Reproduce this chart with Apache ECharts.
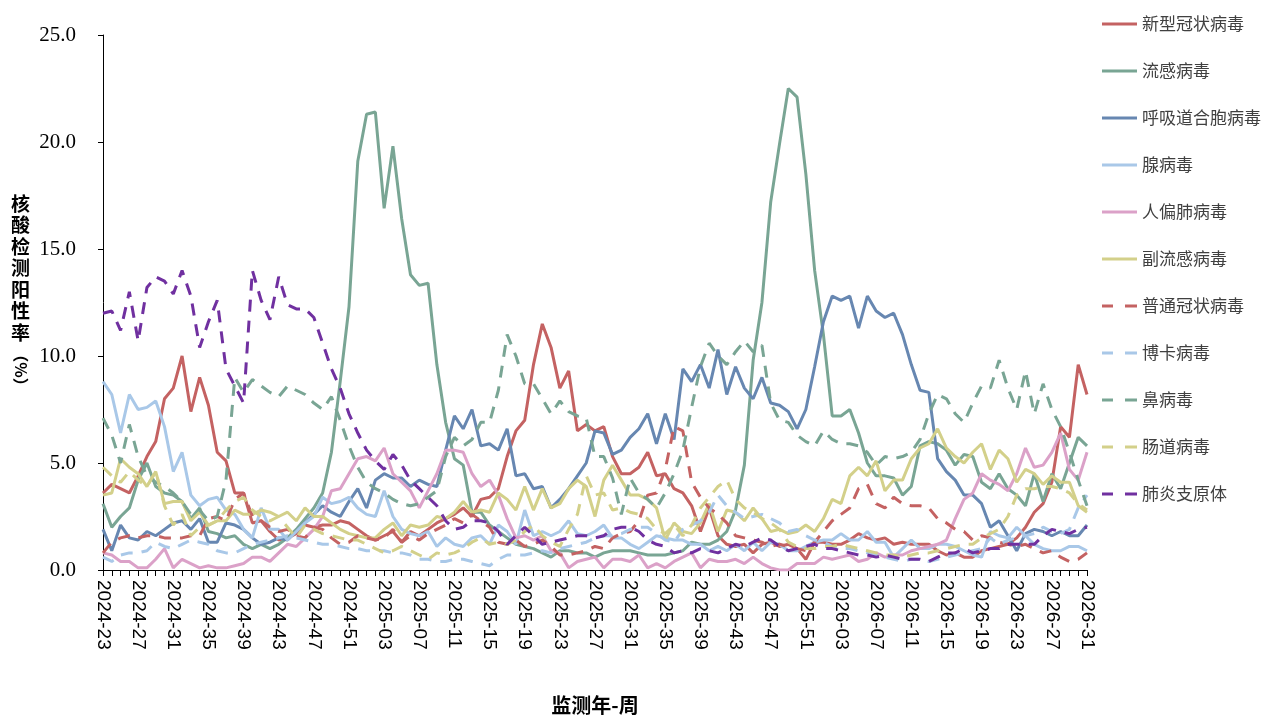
<!doctype html>
<html>
<head>
<meta charset="utf-8">
<script src="https://cdn.jsdelivr.net/npm/echarts@6/dist/echarts.min.js"></script>
<style>
    html, body {margin: 0; padding: 0; background: #fff;}
    #main {width: 1280px; height: 720px;}
</style>
</head>
<body>
<div id="main"></div>
<script>
    // 监测周
    var weeks2024 = ['23','24','25','26','27','28','29','30','31','32','33','34','35','36','37','38','39','40','41','42','43','44','45','46','47','48','49','50','51','52'];
    var weeks2025 = ['01','02','03','04','05','06','07','08','09','10','11','12','13','14','15','16','17','18','19','20','21','22','23','24','25','26','27','28','29','30','31','32','33','34','35','36','37','38','39','40','41','42','43','44','45','46','47','48','49','50','51','52'];
    var weeks2026 = ['01','02','03','04','05','06','07','08','09','10','11','12','13','14','15','16','17','18','19','20','21','22','23','24','25','26','27','28','29','30','31'];
    var yTicks = [0, 5, 10, 15, 20, 25];

    var names = ['新型冠状病毒','流感病毒','呼吸道合胞病毒','腺病毒','人偏肺病毒','副流感病毒','普通冠状病毒','博卡病毒','鼻病毒','肠道病毒','肺炎支原体'];

    var sars = [3.6,4.0,3.8,3.6,4.4,5.3,6.0,8.0,8.5,10.0,
        7.4,9.0,7.7,5.5,5.1,3.6,3.6,2.2,2.3,1.8,
        1.4,1.5,1.7,2.1,2.0,2.1,2.1,2.3,2.2,1.9,
        1.6,1.4,1.6,1.8,1.3,1.8,1.6,1.9,2.2,2.4,
        2.6,2.9,2.5,3.3,3.4,3.8,5.3,6.5,7.0,9.6,
        11.5,10.4,8.5,9.3,6.5,6.8,6.5,6.7,5.3,4.5,
        4.5,4.8,5.5,4.4,4.5,3.8,3.6,3.0,1.8,2.9,
        1.6,1.2,1.1,1.2,0.8,1.2,1.3,1.1,1.2,1.0,
        0.5,1.3,1.3,1.2,1.2,1.4,1.7,1.5,1.4,1.5,
        1.2,1.3,1.2,1.2,1.2,0.9,0.7,0.8,0.6,0.6,
        0.9,1.0,1.1,1.2,1.5,2.0,2.7,3.1,4.1,6.7,
        6.2,9.6,8.2];
    var flu = [3.1,2.0,2.5,2.9,4.2,5.0,3.9,3.6,3.5,3.2,
        2.4,2.9,1.8,1.7,1.5,1.6,1.2,1.0,1.2,1.0,
        1.2,1.5,1.9,2.4,2.9,3.6,5.5,8.8,12.3,19.1,
        21.3,21.4,16.9,19.8,16.4,13.8,13.3,13.4,9.6,6.9,
        5.2,4.9,2.7,2.7,2.1,1.8,1.5,1.2,1.1,1.0,
        0.8,0.6,0.9,0.9,0.8,0.8,0.6,0.8,0.9,0.9,
        0.9,0.8,0.7,0.7,0.7,0.8,0.9,1.3,1.2,1.2,
        1.4,1.8,2.8,4.9,9.8,12.5,17.2,19.9,22.5,22.1,
        18.5,14.0,11.0,7.2,7.2,7.5,6.4,5.0,4.4,4.4,
        4.3,3.5,3.9,5.8,6.0,5.9,5.6,4.9,5.4,5.3,
        4.1,3.8,4.5,3.8,3.5,3.0,4.5,3.2,4.5,3.8,
        5.0,6.2,5.8];
    var rsv = [1.9,0.9,2.1,1.5,1.4,1.8,1.6,1.9,2.2,2.3,
        1.9,2.4,1.3,1.3,2.2,2.1,1.9,1.5,1.2,1.3,
        1.5,1.4,1.8,2.2,2.6,3.0,2.7,2.5,3.2,3.8,
        2.9,4.2,4.5,4.3,4.3,3.9,4.2,4.0,3.9,5.6,
        7.2,6.6,7.5,5.8,5.9,5.6,6.6,4.4,4.5,3.8,
        3.9,2.9,3.3,3.8,4.4,5.0,6.5,6.4,5.4,5.6,
        6.2,6.6,7.3,5.9,7.3,6.1,9.4,8.8,9.6,8.5,
        10.3,8.2,9.5,8.5,8.0,9.0,7.8,7.7,7.4,6.6,
        7.5,9.5,11.6,12.8,12.6,12.8,11.3,12.8,12.1,11.8,
        12.0,11.0,9.6,8.4,8.3,5.2,4.6,4.2,3.5,3.5,
        3.1,2.0,2.3,1.6,0.9,1.7,1.9,1.8,1.6,1.8,
        1.6,1.6,2.1];
    var adeno = [8.8,8.2,6.4,8.2,7.5,7.6,7.9,6.7,4.6,5.5,
        3.5,3.0,3.3,3.4,2.8,2.6,1.9,1.5,2.9,1.9,
        1.9,1.4,1.8,2.2,2.5,3.4,3.1,3.2,3.4,2.9,
        2.6,2.5,3.7,2.5,1.9,1.7,1.6,1.8,1.1,1.5,
        1.2,1.1,1.5,1.6,1.2,2.1,1.8,1.2,2.8,1.6,
        1.8,1.6,1.8,2.3,1.7,1.6,1.8,2.1,1.5,1.5,
        1.2,1.0,1.3,1.6,1.5,1.4,1.4,1.2,1.2,0.9,
        1.1,0.9,1.2,0.9,1.3,0.9,1.3,1.2,0.9,0.9,
        1.1,1.3,1.4,1.4,1.7,1.4,1.4,1.8,1.3,1.3,
        0.6,1.0,1.4,1.0,1.0,1.2,1.2,1.1,0.9,0.7,
        0.6,1.8,1.6,1.5,2.0,1.6,1.2,1.0,0.9,0.9,
        1.1,1.1,0.9];
    var hmpv = [0.8,0.7,0.4,0.4,0.1,0.1,0.5,1.0,0.1,0.5,
        0.3,0.1,0.2,0.1,0.1,0.2,0.3,0.6,0.6,0.4,
        0.8,1.2,1.1,1.5,1.9,2.5,3.7,3.8,4.5,5.2,
        5.3,5.1,5.7,4.5,4.1,3.7,2.9,3.7,4.5,5.6,
        5.6,5.5,4.5,3.9,4.2,3.5,2.4,1.5,1.6,1.4,
        1.6,0.9,0.8,0.1,0.4,0.5,0.6,0.1,0.5,0.5,
        0.4,0.7,0.1,0.3,0.1,0.4,0.6,0.8,0.1,0.5,
        0.4,0.4,0.5,0.3,0.6,0.3,0.1,0.0,0.0,0.3,
        0.3,0.3,0.6,0.5,0.6,0.7,0.4,0.5,0.8,0.6,
        0.7,0.7,0.9,1.0,1.1,1.2,1.4,2.4,3.3,3.6,
        4.5,4.2,4.0,3.7,4.5,5.7,4.8,4.9,5.5,6.4,
        4.7,4.2,5.5];
    var piv = [3.5,3.6,5.2,4.8,4.5,3.9,4.6,3.1,3.2,3.2,
        2.3,2.7,2.1,2.3,2.3,2.8,2.6,2.6,2.8,2.7,
        2.5,2.7,2.3,2.9,2.5,2.5,2.2,1.9,1.7,1.6,
        1.5,1.5,1.9,2.2,1.6,2.1,2.0,2.1,2.5,2.4,
        2.7,3.2,2.7,2.8,2.7,3.6,3.3,2.8,3.9,2.8,
        3.8,2.9,3.1,3.8,4.2,3.9,2.5,4.2,4.9,4.2,
        3.5,3.5,3.3,2.9,1.4,2.2,1.8,1.7,2.2,3.1,
        1.8,2.8,2.7,2.3,2.9,2.4,1.8,1.9,1.7,1.8,
        2.1,1.8,2.4,3.3,3.1,4.4,4.8,4.4,5.1,3.7,
        4.2,4.2,5.2,5.7,5.9,6.6,5.7,5.3,5.0,5.5,
        5.9,4.7,5.6,5.2,4.1,4.7,4.5,4.0,4.4,4.1,
        4.1,3.0,2.7];
    var hcov = [0.8,1.3,1.5,1.6,1.5,1.6,1.6,1.5,1.5,1.5,
        1.6,1.6,2.4,2.5,2.3,3.3,3.6,2.5,2.3,2.0,
        1.8,1.9,1.6,1.5,2.0,1.9,1.5,1.2,1.3,1.6,
        1.5,1.4,1.5,1.9,1.3,1.6,1.4,1.7,1.9,2.1,
        2.4,2.2,2.6,2.3,2.0,1.3,1.2,1.4,1.1,1.2,
        1.4,1.1,0.7,0.7,0.8,0.9,1.1,1.0,1.5,1.7,
        1.8,2.3,3.5,3.6,4.7,6.7,6.5,4.1,3.4,2.9,
        2.6,2.2,1.6,1.5,1.4,1.3,1.1,1.2,1.1,1.0,
        0.9,1.3,1.8,2.3,2.6,2.9,3.8,4.0,3.1,2.9,
        3.4,3.1,3.0,3.0,2.9,2.4,2.2,1.9,1.8,1.4,
        1.6,1.5,1.3,1.2,1.1,1.2,1.0,0.8,0.9,0.6,
        0.4,0.5,0.8];
    var boca = [0.6,0.4,0.7,0.8,0.8,0.9,1.3,1.1,1.0,1.2,
        1.4,1.3,1.2,0.9,0.8,0.8,1.0,1.2,1.3,1.4,
        1.5,1.6,1.5,1.4,1.3,1.2,1.2,1.1,1.0,1.0,
        0.9,0.9,0.9,0.8,0.8,0.7,0.5,0.5,0.4,0.4,
        0.5,0.5,0.4,0.3,0.2,0.5,0.7,0.7,0.7,0.8,
        0.9,0.8,1.0,1.1,1.2,1.3,1.5,1.6,1.6,1.7,
        1.9,2.0,2.0,1.7,1.4,1.3,1.9,2.1,2.3,2.7,
        3.5,3.0,2.7,2.4,2.5,2.6,2.4,2.2,1.8,1.9,
        1.6,1.4,1.3,1.1,1.0,1.0,0.9,0.8,0.7,0.6,
        0.5,0.4,0.5,0.5,0.4,0.5,0.6,0.7,0.8,0.9,
        1.0,1.5,1.2,1.4,1.5,1.6,1.7,2.0,1.8,1.7,
        1.9,2.9,3.5];
    var rhino = [7.1,6.3,5.0,6.8,5.3,4.4,4.1,3.9,3.6,3.2,
        2.6,2.8,2.3,2.5,4.2,9.0,8.3,8.9,8.6,8.3,
        8.1,8.6,8.4,8.2,7.8,7.5,8.1,7.0,5.8,4.8,
        4.1,3.8,3.6,3.3,3.1,3.0,3.1,3.4,3.7,5.3,
        6.2,5.8,6.1,6.9,6.9,8.4,11.0,10.0,8.7,8.7,
        8.0,7.3,7.9,7.4,7.2,7.1,5.3,5.3,4.3,2.6,
        4.3,3.6,3.3,2.9,3.6,4.5,5.6,7.6,9.5,10.6,
        10.0,9.6,10.2,10.7,10.2,10.5,7.8,7.0,6.9,6.3,
        6.0,5.8,6.5,6.1,5.9,5.9,5.8,5.5,4.9,5.3,
        5.2,5.3,5.5,6.1,7.3,8.2,8.0,7.3,6.9,7.8,
        8.6,8.5,9.8,8.5,7.5,9.3,7.3,8.7,7.5,6.7,
        5.5,4.2,3.0];
    var entero = [4.8,4.4,4.1,4.6,4.2,3.9,4.6,3.0,2.1,2.6,
        1.6,2.0,2.1,2.3,2.8,3.2,3.4,2.8,2.5,2.3,
        2.5,2.0,1.5,2.1,1.9,1.7,1.6,1.5,1.4,1.4,
        1.2,1.0,0.8,0.9,1.1,0.9,0.7,0.5,0.8,0.7,
        0.8,1.0,1.3,1.5,1.2,1.3,1.2,1.4,1.8,2.1,
        1.6,1.3,1.1,1.9,2.6,4.4,3.5,3.6,2.8,2.9,
        2.7,2.6,2.4,1.9,1.7,2.1,1.6,2.1,2.9,3.4,
        3.9,4.2,3.3,2.9,2.7,2.4,2.2,1.9,1.3,1.1,
        1.0,1.0,1.1,1.1,1.2,1.1,1.0,0.9,0.8,0.7,
        0.7,0.6,0.7,0.8,0.8,0.9,1.0,1.1,1.2,1.2,
        1.5,1.7,1.9,2.5,3.5,3.8,3.8,3.9,3.9,3.8,
        3.6,3.1,2.8];
    var mp = [12.0,12.1,11.2,13.0,10.7,13.2,13.7,13.5,12.9,14.0,
        12.8,10.4,11.6,12.6,9.4,8.6,7.8,14.0,12.6,11.7,
        13.7,12.4,12.2,12.2,11.8,10.6,9.4,8.5,7.3,6.4,
        5.6,5.1,4.7,5.4,4.9,4.2,3.8,3.4,3.0,2.3,
        1.9,2.0,2.3,2.3,2.2,1.8,1.2,1.6,2.0,1.6,
        1.2,1.3,1.4,1.5,1.6,1.6,1.5,1.6,1.9,2.0,
        2.0,1.8,1.4,1.2,1.1,0.8,0.9,0.8,1.0,0.9,
        0.8,1.0,1.2,1.1,1.3,1.5,1.4,1.1,0.9,1.0,
        1.1,1.2,1.0,1.0,0.9,0.8,0.7,0.7,0.6,0.7,
        0.6,0.5,0.5,0.5,0.4,0.6,0.8,0.8,1.0,0.8,
        0.9,1.0,1.0,1.2,1.2,1.2,1.2,1.6,1.9,1.8,
        1.7,1.9,2.0];

    var values = [sars, flu, rsv, adeno, hmpv, piv, hcov, boca, rhino, entero, mp];
    var colors = ['#c46262','#79a594','#6787b1','#a9c8e8','#dba1c8','#d3d08a','#c46262','#a9c8e8','#79a594','#d3d08a','#7030a0'];
    var dashed = [false,false,false,false,false,false,true,true,true,true,true];

    // 图例线段: 实线 / 虚线
    var solidIcon = 'path://M0,0H35V3H0Z';
    var dashIcon = 'path://M0,0H11V3H0Z M23,0H35V3H23Z';

    var category = [];
    weeks2024.forEach(function (w) { category.push('2024-' + w); });
    weeks2025.forEach(function (w) { category.push('2025-' + w); });
    weeks2026.forEach(function (w) { category.push('2026-' + w); });

    var series = [];
    var legendData = [];
    for (var k = 0; k < names.length; k++) {
        series.push({
            name: names[k],
            type: 'line',
            data: values[k],
            symbol: 'none',
            smooth: false,
            lineStyle: {color: colors[k], width: 3, type: dashed[k] ? [12, 9] : 'solid'},
            itemStyle: {color: colors[k]}
        });
        legendData.push({name: names[k], icon: dashed[k] ? dashIcon : solidIcon, itemStyle: {color: colors[k]}});
    }

    var dom = document.getElementById('main');
    var myChart = echarts.init(dom);
    var option = {
        animation: false,
        backgroundColor: '#fff',
        grid: {left: 103, right: 193, top: 35, bottom: 145, containLabel: false},
        legend: {
            orient: 'vertical',
            left: 1097,
            top: 9,
            itemWidth: 35,
            itemHeight: 3,
            itemGap: 27,
            textStyle: {color: '#404040', fontSize: 17, lineHeight: 20, fontFamily: 'Noto Sans CJK SC'},
            data: legendData
        },
        xAxis: {
            type: 'category',
            data: category,
            boundaryGap: false,
            name: '监测年-周',
            nameLocation: 'middle',
            nameGap: 125,
            nameTextStyle: {color: '#000', fontSize: 20, fontWeight: 'bold', fontFamily: 'Noto Sans CJK SC'},
            axisLine: {lineStyle: {color: '#000', width: 1}},
            axisTick: {interval: 0, length: 6, lineStyle: {color: '#000'}},
            axisLabel: {interval: 3, rotate: -90, margin: 10, color: '#000', fontSize: 19, fontFamily: 'Liberation Sans'},
            splitLine: {show: false}
        },
        yAxis: {
            type: 'value',
            min: yTicks[0],
            max: yTicks[yTicks.length - 1],
            interval: 5,
            axisLine: {show: true, lineStyle: {color: '#000', width: 1}},
            axisTick: {show: true, length: 5, lineStyle: {color: '#000'}},
            axisLabel: {
                margin: 27, color: '#000', fontSize: 21, fontFamily: 'Liberation Serif',
                formatter: function (v) { return v.toFixed(1); }
            },
            splitLine: {show: false}
        },
        graphic: [
            {
                type: 'text', left: 11, top: 193,
                style: {text: '核\n酸\n检\n测\n阳\n性\n率', fill: '#000', font: 'bold 19px "Noto Sans CJK SC"', lineHeight: 21.5}
            },
            {
                type: 'text', x: 21, y: 370, rotation: -Math.PI / 2,
                style: {text: '（%）', fill: '#000', font: 'bold 16px "Noto Sans CJK SC"', align: 'center', verticalAlign: 'middle'}
            }
        ],
        series: series
    };
    if (option && typeof option === "object") {
        myChart.setOption(option, true);
    }
</script>
</body>
</html>
